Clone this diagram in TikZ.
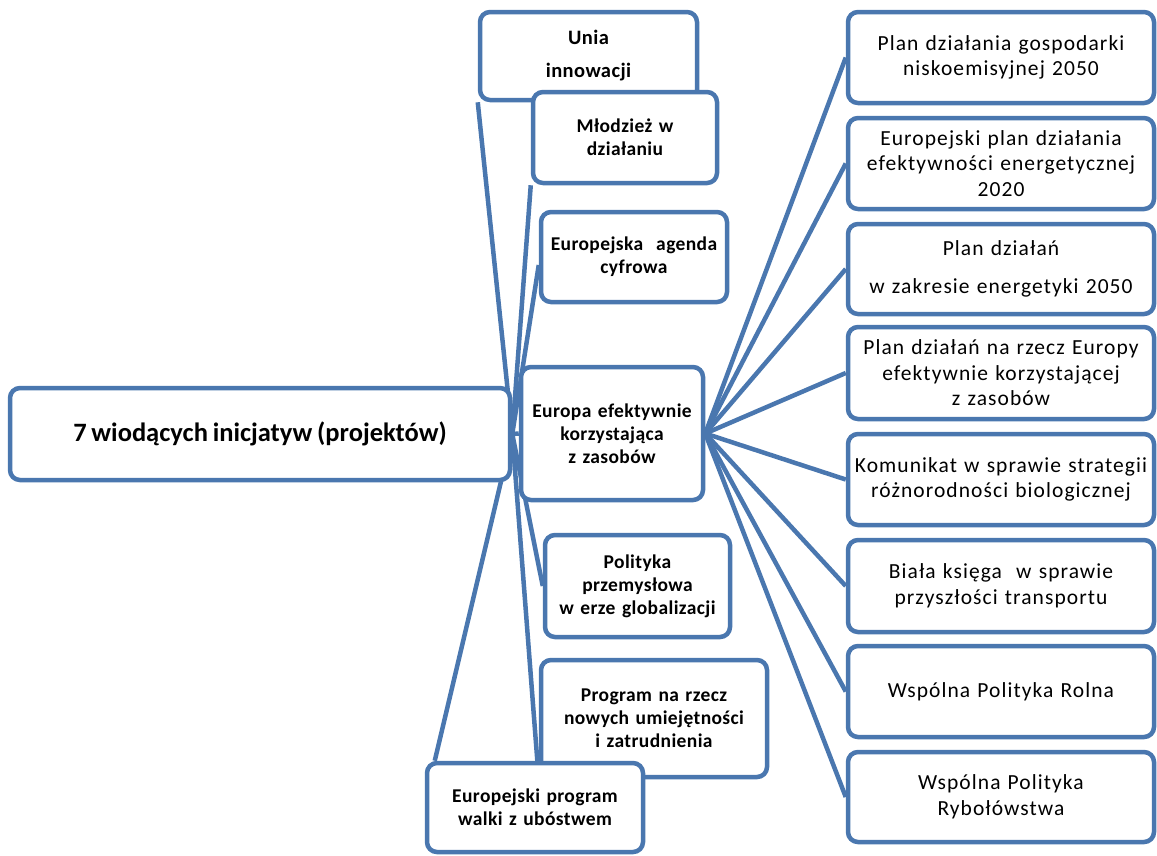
\documentclass[tikz,border=0pt]{standalone}
\usepackage{fontspec}
\setmainfont{Carlito}[WordSpace=0.8]
\newfontfamily\rfont{Carlito}[LetterSpace=5, WordSpace=0.7]
\newfontfamily\lfont{Carlito}[LetterSpace=2, WordSpace=0.8]
\usetikzlibrary{calc,backgrounds}
\definecolor{bl}{RGB}{74,119,175}
\tikzset{
  box/.style={draw=bl, line width=4.5pt, rounded corners=10pt, fill=white,
    align=center, inner sep=0pt, anchor=center},
  lbox/.style={box, font=\lfont\fontsize{19.5}{23}\selectfont\bfseries},
  rbox/.style={box, font=\rfont\fontsize{21.5}{25.5}\selectfont, minimum width=306pt, text width=304pt},
  conn/.style={draw=bl, line width=4.5pt},
}
\begin{document}
\begin{tikzpicture}[x=1pt,y=-1pt]
\useasboundingbox (0,0) rectangle (1157,855);
% left column
\node[box, font=\fontsize{26.5}{30}\selectfont\bfseries, minimum width=500pt, minimum height=92pt] (main) at (260,434) {7 wiodących inicjatyw (projektów)};
\node[lbox, font=\lfont\fontsize{20.5}{24}\selectfont\bfseries, minimum width=217pt, minimum height=88pt, text width=210pt] (unia) at (588.5,56) {Unia\\[9pt]innowacji};
\node[lbox, minimum width=184pt, minimum height=91pt, text width=182pt] (mlod) at (625,137.5) {Młodzież w\\działaniu};
\node[lbox, minimum width=186pt, minimum height=90pt, text width=186pt] (agenda) at (634,257) {Europejska\ \ agenda\\cyfrowa};
\node[lbox, minimum width=182pt, minimum height=133pt, text width=182pt] (europa) at (612,433.5) {Europa efektywnie\\korzystająca\\z zasobów};
\node[lbox, minimum width=185pt, minimum height=102pt, text width=185pt] (polit) at (637.5,586) {Polityka\\przemysłowa\\w erze globalizacji};
\node[lbox, minimum width=226pt, minimum height=117pt, text width=220pt] (prog) at (654,718.5) {Program na rzecz\\nowych umiejętności\\i zatrudnienia};
\node[lbox, minimum width=216pt, minimum height=89pt, text width=210pt] (walki) at (535,807.5) {Europejski program\\walki z ubóstwem};
% right column
\node[rbox, minimum height=91pt] (r1) at (1001,57.5) {Plan działania gospodarki\\niskoemisyjnej 2050};
\node[rbox, minimum height=91pt] (r2) at (1001,163.5) {Europejski plan działania\\efektywności energetycznej\\2020};
\node[rbox, minimum height=90pt] (r3) at (1001,269) {Plan działań\\[12pt]w zakresie energetyki 2050};
\node[rbox, minimum height=92pt] (r4) at (1001,373) {Plan działań na rzecz Europy\\efektywnie korzystającej\\z zasobów};
\node[rbox, minimum height=91pt] (r5) at (1001,479.5) {Komunikat w sprawie strategii\\różnorodności biologicznej};
\node[rbox, minimum height=92pt] (r6) at (1001,586) {Biała księga\ \ w sprawie\\przyszłości transportu};
\node[rbox, minimum height=91pt] (r7) at (1001,691.5) {Wspólna Polityka Rolna};
\node[rbox, minimum height=90pt] (r8) at (1001,797) {Wspólna Polityka\\Rybołówstwa};
% connectors
\begin{scope}[on background layer]
\draw[conn] (main.east) -- (unia.south west);
\draw[conn] (main.east) -- (mlod.south west);
\draw[conn] (main.east) -- ($(agenda.west)+(0,8)$);
\draw[conn] (main.east) -- (europa.west);
\draw[conn] (main.east) -- (polit.west);
\draw[conn] (main.east) -- (prog.south west);
\draw[conn] (main.east) -- ($(walki.north west)+(10,0)$);
\foreach \r in {r1,r2,r3,r4,r5,r6,r7,r8}
  \draw[conn] (europa.east) -- (\r.west);
\end{scope}
\end{tikzpicture}
\end{document}
